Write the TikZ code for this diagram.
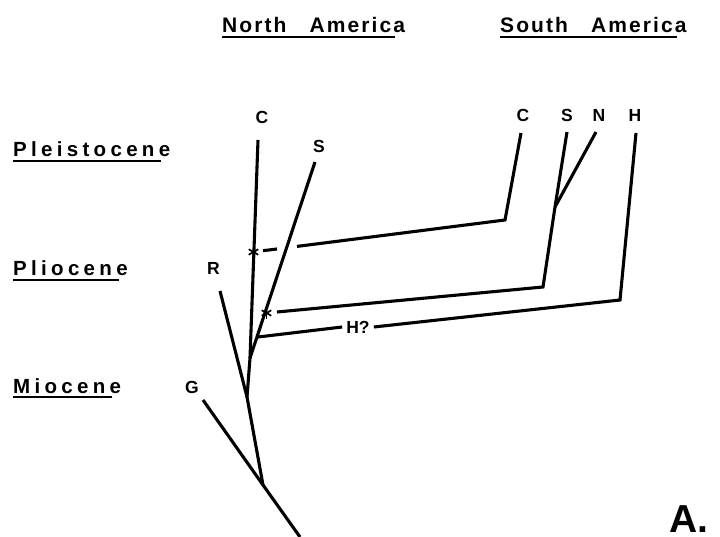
\documentclass[tikz,border=0pt]{standalone}
\usepackage{fontspec}
\setmainfont{Liberation Sans}
\usetikzlibrary{calc}
\begin{document}
\begin{tikzpicture}[x=1pt,y=-1pt,
  br/.style={line width=3.1pt},
  tax/.style={font=\bfseries\fontsize{17.5}{17.5}\selectfont, inner sep=0pt},
  epoch/.style={font=\bfseries\fontsize{20.5}{20.5}\selectfont\addfontfeatures{LetterSpace=21}, inner sep=0pt, anchor=base west},
  head/.style={font=\bfseries\fontsize{21}{21}\selectfont\addfontfeatures{LetterSpace=10}, inner sep=0pt, anchor=base west},
  uline/.style={line width=1.3pt},
  star/.style={line width=1.7pt}]
\useasboundingbox (0,0) rectangle (720,537);

% headers
\node[head] (na) at (222,33) {North\hspace{23pt}America};
\node[head] (sa) at (500,33) {South\hspace{23pt}America};
\draw[uline] ([yshift=-4pt]na.base west) -- ([xshift=-10pt,yshift=-4pt]na.base east);
\draw[uline] ([yshift=-4pt]sa.base west) -- ([xshift=-10pt,yshift=-4pt]sa.base east);

% epochs
\node[epoch] (ple) at (13,157) {Pleistocene};
\node[epoch] (pli) at (13,276) {Pliocene};
\node[epoch] (mio) at (13,393) {Miocene};
\foreach \n in {ple,pli,mio}
  \draw[uline] ([yshift=-4pt]\n.base west) -- ([xshift=-9pt,yshift=-4pt]\n.base east);

% tree coordinates
\coordinate (root) at (300,537);
\coordinate (j1) at (263,485);
\coordinate (Gt) at (203,400);
\coordinate (j2) at (247,397);
\coordinate (Rt) at (220,291);
\coordinate (j3) at (250,358);
\coordinate (Ct) at (258,140);
\coordinate (St) at (315,162);
\coordinate (hb) at (258,337);
\coordinate (aC) at (253.5,252);
\coordinate (aS) at (266.5,313);
\coordinate (CSc) at (505,220);
\coordinate (CSt) at (521,133);
\coordinate (SSc) at (543,287);
\coordinate (SSj) at (555,207);
\coordinate (SSt) at (567,132);
\coordinate (NSt) at (596,132);
\coordinate (HSc) at (620,300);
\coordinate (HSt) at (636,133);
\coordinate (d1) at (263,250.7);
\coordinate (d2) at (277,249);
\coordinate (d3) at (297,246.4);
\coordinate (s1) at (277,312);

% labels
\node[tax] (lC) at (262,117) {C};
\node[tax] (lS) at (319,146) {S};
\node[tax] (lR) at (213.5,268) {R};
\node[tax] (lG) at (192,387) {G};
\node[tax] (sC) at (523,115) {C};
\node[tax] (sS) at (567,115) {S};
\node[tax] (sN) at (599,115) {N};
\node[tax] (sH) at (635,115) {H};

% North American tree
\draw[br] (root) -- (j1) -- (Gt);
\draw[br] (j1) -- (j2) -- (Rt);
\draw[br] (j2) -- (j3) -- (Ct);
\draw[br] (j3) -- (St);

% connections to South America
\draw[br] (d1) -- (d2);
\draw[br] (d3) -- (CSc) -- (CSt);
\draw[br] (s1) -- (SSc) -- (SSj) -- (SSt);
\draw[br] (SSj) -- (NSt);
\node[tax, inner xsep=4pt] (hq) at (358,327) {H?};
\draw[br] (hb) -- (hq.west);
\draw[br] (hq.east) -- (HSc) -- (HSt);

% asterisks
\foreach \p in {aC,aS}
  \foreach \a in {90,30,150}
    \draw[star] ($(\p)+(\a:5.5)$) -- ($(\p)+(\a+180:5.5)$);

% panel letter
\node[font=\bfseries\fontsize{39}{39}\selectfont, inner sep=0pt, anchor=base west] (A) at (669,532) {A.};
\end{tikzpicture}
\end{document}
